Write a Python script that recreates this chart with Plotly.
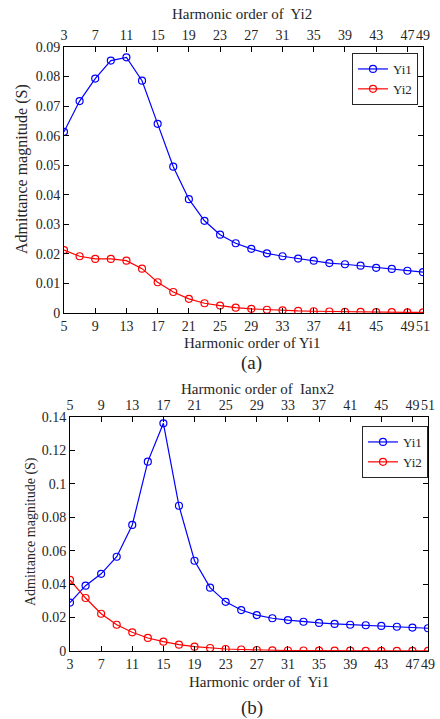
import plotly.graph_objects as go

# ---------------- data ----------------
harm_a = [5, 7, 9, 11, 13, 15, 17, 19, 21, 23, 25, 27, 29, 31, 33, 35, 37, 39, 41, 43, 45, 47, 49, 51]
yi1_a = [0.0613, 0.0717, 0.0793, 0.0854, 0.0865, 0.0786, 0.0640, 0.0495, 0.0385, 0.0312, 0.0265, 0.0236,
         0.0217, 0.0202, 0.0192, 0.0184, 0.0177, 0.0169, 0.0165, 0.0160, 0.0153, 0.0149, 0.0143, 0.0138]
yi2_a = [0.0213, 0.0192, 0.0183, 0.0183, 0.0177, 0.0150, 0.0104, 0.0071, 0.0048, 0.0033, 0.0025, 0.0018,
         0.0014, 0.0011, 0.0009, 0.0007, 0.0006, 0.0005, 0.0004, 0.0004, 0.0003, 0.0003, 0.0002, 0.0002]

harm_b = [3, 5, 7, 9, 11, 13, 15, 17, 19, 21, 23, 25, 27, 29, 31, 33, 35, 37, 39, 41, 43, 45, 47, 49]
yi1_b = [0.0290, 0.0391, 0.0462, 0.0564, 0.0754, 0.1133, 0.1362, 0.0869, 0.0540, 0.0379, 0.0294, 0.0245,
         0.0215, 0.0196, 0.0185, 0.0175, 0.0168, 0.0162, 0.0157, 0.0154, 0.0150, 0.0145, 0.0140, 0.0136]
yi2_b = [0.0425, 0.0317, 0.0223, 0.0157, 0.0112, 0.0078, 0.0056, 0.0038, 0.0026, 0.0018, 0.0012, 0.0009,
         0.0006, 0.0004, 0.0003, 0.0003, 0.0002, 0.0002, 0.0002, 0.0001, 0.0001, 0.0001, 0.0001, 0.0001]

ticks_a_bottom = [5, 9, 13, 17, 21, 25, 29, 33, 37, 41, 45, 49, 51]
ticks_a_top = [3, 7, 11, 15, 19, 23, 27, 31, 35, 39, 43, 47, 49]
ticks_b_bottom = [3, 7, 11, 15, 19, 23, 27, 31, 35, 39, 43, 47, 49]
ticks_b_top = [5, 9, 13, 17, 21, 25, 29, 33, 37, 41, 45, 49, 51]
yticks_a = [0, 0.01, 0.02, 0.03, 0.04, 0.05, 0.06, 0.07, 0.08, 0.09]
ylabels_a = ["0", "0.01", "0.02", "0.03", "0.04", "0.05", "0.06", "0.07", "0.08", "0.09"]
yticks_b = [0, 0.02, 0.04, 0.06, 0.08, 0.1, 0.12, 0.14]
ylabels_b = ["0", "0.02", "0.04", "0.06", "0.08", "0.1", "0.12", "0.14"]

W, H = 440, 719
FONT = "Liberation Serif, Times New Roman, serif"
TXT = "#262626"
BLUE = "#0000FF"
RED = "#FF0000"

def px(x):
    return x / W

def py(y):
    return 1 - y / H

fig = go.Figure()

def add_series(x, y, color, name, xa, ya, legend, showlegend=True):
    fig.add_trace(go.Scatter(
        x=x, y=y, mode="lines+markers", name=name,
        line=dict(color=color, width=1.2),
        marker=dict(symbol="circle-open", size=7, color=color, line=dict(width=1.2)),
        xaxis=xa, yaxis=ya, legend=legend, showlegend=showlegend,
    ))

add_series(harm_a, yi1_a, BLUE, "Yi1", "x", "y", "legend")
add_series(harm_a, yi2_a, RED, "Yi2", "x", "y", "legend")
add_series(harm_b, yi1_b, BLUE, "Yi1", "x2", "y2", "legend2")
add_series(harm_b, yi2_b, RED, "Yi2", "x2", "y2", "legend2")
# dummy traces to anchor the top axes
fig.add_trace(go.Scatter(x=[ticks_a_top[0]], y=[None], xaxis="x3", yaxis="y", showlegend=False, hoverinfo="skip"))
fig.add_trace(go.Scatter(x=[ticks_b_top[0]], y=[None], xaxis="x4", yaxis="y2", showlegend=False, hoverinfo="skip"))

tickfont = dict(family=FONT, size=14, color=TXT)
common_x = dict(showgrid=False, zeroline=False, showline=True, linecolor="black", linewidth=1,
                ticks="inside", ticklen=5, tickcolor="black", tickfont=tickfont, mirror=False,
                tickangle=0, automargin=False)
common_y = dict(showgrid=False, zeroline=False, showline=True, linecolor="black", linewidth=1,
                ticks="inside", ticklen=5, tickcolor="black", tickfont=tickfont, mirror="ticks",
                tickangle=0, automargin=False)

dom_a_x = [px(64), px(423)]
dom_a_y = [py(313), py(47)]
dom_b_x = [px(70), px(428)]
dom_b_y = [py(651), py(417)]

legend_style = dict(xanchor="right", yanchor="top", bgcolor="white",
                    bordercolor="#262626", borderwidth=1, font=dict(family=FONT, size=13, color=TXT),
                    tracegroupgap=0, itemwidth=30)

fig.update_layout(
    width=W, height=H,
    margin=dict(l=0, r=0, t=0, b=0),
    paper_bgcolor="white", plot_bgcolor="white",
    font=dict(family=FONT, color=TXT),
    xaxis=dict(common_x, domain=dom_a_x, anchor="y", range=[5, 51], tickvals=ticks_a_bottom),
    yaxis=dict(common_y, domain=dom_a_y, anchor="x", range=[0, 0.09], tickvals=yticks_a, ticktext=ylabels_a),
    xaxis3=dict(common_x, overlaying="x", side="top", anchor="y", range=[3, 49], tickvals=ticks_a_top),
    xaxis2=dict(common_x, domain=dom_b_x, anchor="y2", range=[3, 49], tickvals=ticks_b_bottom),
    yaxis2=dict(common_y, domain=dom_b_y, anchor="x2", range=[0, 0.14], tickvals=yticks_b, ticktext=ylabels_b),
    xaxis4=dict(common_x, overlaying="x2", side="top", anchor="y2", range=[5, 51], tickvals=ticks_b_top),
    legend=dict(legend_style, x=px(418), y=py(53)),
    legend2=dict(legend_style, x=px(428), y=py(426)),
    showlegend=True,
)

def ann(text, x, y, size, angle=0):
    fig.add_annotation(text=text, x=px(x), y=py(y), xref="paper", yref="paper",
                       showarrow=False, xanchor="center", yanchor="middle", textangle=angle,
                       font=dict(family=FONT, size=size, color=TXT))

ann("Harmonic order of&nbsp; Yi2", 242, 14, 15)
ann("Harmonic order of Yi1", 253, 343, 15)
ann("(a)", 251, 363, 19)
ann("Admittance magnitude (S)", 22, 169, 16, angle=-90)
ann("Harmonic order of&nbsp; Ianx2", 257, 389, 15)
ann("Harmonic order of&nbsp; Yi1", 259, 682, 15)
ann("(b)", 252, 708, 19)
ann("Admittance magnitude (S)", 31, 532, 14, angle=-90)

fig.write_html("out.html")
